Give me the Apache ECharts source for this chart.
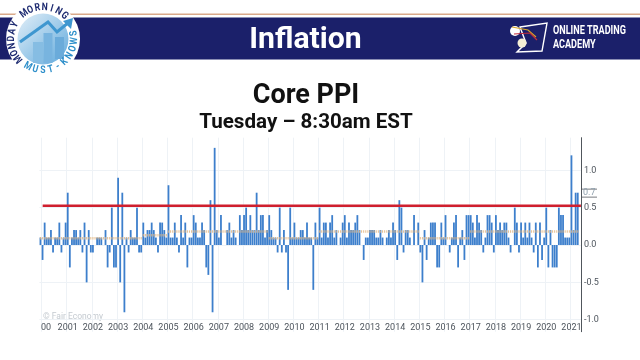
<!DOCTYPE html>
<html><head><meta charset="utf-8">
<style>html,body{margin:0;padding:0;background:#fff}#c{width:640px;height:360px}</style>
<script src="https://cdn.jsdelivr.net/npm/echarts@6/dist/echarts.min.js"></script>
</head><body><div id="c"></div>
<script>
const firstYear = 2000;
const dec1999 = [0.1];
const y2000 = [-0.2,0.3,0.1,0.1,0.2,-0.1,0.1,0.1,0.3,-0.1,0.1,0.3];
const y2001 = [0.7,-0.3,0.1,0.2,0.2,0.1,0.2,-0.1,0.3,-0.5,0.2,-0.1];
const y2002 = [-0.1,0,0.1,0.1,0.1,0,0.2,-0.3,-0.1,0.5,-0.3,-0.3];
const y2003 = [0.9,-0.5,0.7,-0.9,0.1,-0.1,0.2,0.1,0.1,0.5,-0.1,-0.1];
const y2004 = [0.3,0.1,0.2,0.2,0.3,0.2,0.1,-0.1,0.3,0.3,0.2,0.1];
const y2005 = [0.8,0.1,0.1,0.3,0.1,-0.1,0.4,0.1,0.3,-0.3,0.1,0.1];
const y2006 = [0.4,0.3,0.1,0.1,0.3,0.2,-0.3,-0.4,0.6,-0.9,1.3,0.2];
const y2007 = [0.1,0.4,0,0,0.2,0.3,0.1,0.2,0.1,0,0.4,0.2];
const y2008 = [0.4,0.5,0.2,0.4,0.2,0.2,0.7,0.2,0.4,0.4,0.1,0.2];
const y2009 = [0.4,0.2,0.1,0.1,-0.1,0.5,-0.1,0.2,-0.1,-0.6,0.5,0.1];
const y2010 = [0.3,0.1,0.1,0.2,0.2,0.1,0.3,0.1,0.1,-0.6,0.3,0.1];
const y2011 = [0.5,0.1,0.3,0.3,0.1,0.3,0.4,0.1,0.2,0,0.1,0.3];
const y2012 = [0.4,0.1,0.3,0.2,0.2,0.3,0.4,0.2,0,-0.2,0.1,0.1];
const y2013 = [0.2,0.2,0.2,0.1,0.1,0.2,0.1,0,0.1,0.2,0.1,0.3];
const y2014 = [0.2,-0.2,0.6,0.5,-0.1,0.2,0.2,0.1,0,0.4,0,0.3];
const y2015 = [-0.1,-0.5,0.2,-0.2,0.1,0.3,0.3,0.3,-0.3,-0.3,0.3,0.1];
const y2016 = [0.4,0,-0.1,0.1,0.3,0.4,-0.3,0.1,0.2,-0.2,0.4,0.4];
const y2017 = [0.4,0.3,0.1,0.4,0.3,0.2,-0.1,0.1,0.4,0.4,0.3,-0.1];
const y2018 = [0.4,0.2,0.3,0.2,0.3,0.3,0.1,-0.1,0,0.5,0.3,-0.1];
const y2019 = [0.3,0.1,0.3,0.1,0.3,0.1,-0.1,0.3,-0.3,0.3,-0.2,0.1];
const y2020 = [0.5,-0.3,0.2,-0.3,-0.3,-0.3,0.5,0.4,0.4,0.1,0.1,0.1];
const y2021 = [1.2,0.2,0.7,0.7];
const monthlyByYear = [y2000,y2001,y2002,y2003,y2004,y2005,y2006,y2007,y2008,y2009,y2010,y2011,y2012,y2013,y2014,y2015,y2016,y2017,y2018,y2019,y2020,y2021];

// Forecast markers per year, one reading for the year
const forecastByYear = [0.09,0.09,0.09,0.09,0.13,0.18,0.18,0.18,0.18,0.09,0.09,0.18,0.18,0.18,0.18,0.09,0.09,0.18,0.18,0.18,0.18,0.18];
const threshold = 0.525;
const latest = 0.7;
const yTicks = [-1,-0.5,0,0.5,1];
const navy = '#1b206a';
const font = 'Roboto, "Noto Sans", sans-serif';

const categories = ['1999-12'];
const actual = dec1999.slice();
const forecast = [forecastByYear[0]];
monthlyByYear.forEach((arr, i) => arr.forEach((v, m) => {
  categories.push((firstYear + i) + '-' + String(m + 1).padStart(2, '0'));
  actual.push(v);
  forecast.push(forecastByYear[i]);
}));
categories.push('2021-05'); actual.push(null); forecast.push(null);

const isJan = (idx, val) => String(val).endsWith('-01');

function arcText(str, cx, cy, R, startDeg, stepDeg, bottom, fill) {
  return str.split('').map((ch, i) => {
    const a = (startDeg + stepDeg * i) * Math.PI / 180;
    return {type:'text', x: cx + R * Math.sin(a), y: cy - R * Math.cos(a),
      rotation: bottom ? -(a - Math.PI) : -a, scaleX:0.82,
      style:{text: ch, fill, font:'bold 10.5px ' + font, align:'center', verticalAlign:'middle'}};
  });
}

const logoCx = 43, logoCy = 39;
const header = [
  {type:'rect', shape:{x:0,y:13.5,width:640,height:1.6}, style:{fill:'#d9a98a'}},
  {type:'rect', shape:{x:0,y:17.5,width:640,height:42}, style:{fill:navy}},
  {type:'circle', shape:{cx:logoCx,cy:logoCy,r:37}, style:{fill:'#fff'}},
  {type:'circle', shape:{cx:logoCx,cy:logoCy,r:25.5}, style:{fill:{type:'linear',x:0,y:0,x2:1,y2:1,colorStops:[{offset:0,color:'#e3eff8'},{offset:1,color:'#5fa9dc'}]}}},
  {type:'rect', shape:{x:33,y:42,width:10,height:21}, style:{fill:'#86bde3'}},
  {type:'rect', shape:{x:43.5,y:33,width:9,height:30}, style:{fill:'#78b4df'}},
  {type:'rect', shape:{x:55,y:37,width:9,height:22}, style:{fill:'#6aabda'}},
  {type:'polyline', shape:{points:[[20,42],[48,22],[57,32],[68,23]]}, style:{stroke:'#3f97d0',lineWidth:3,fill:null}},
  {type:'polygon', shape:{points:[[73,18],[71,29],[63,21]]}, style:{fill:'#3f97d0'}},
  ...arcText('MONDAY MORNING', logoCx, logoCy, 31.5, -129, 13.2, false, '#1d2a70'),
  ...arcText('MUST-KNOWS', logoCx, logoCy, 31.5, 209, -14.4, true, '#2e8fca'),
  {type:'text', x:305.5, y:40.5, scaleX:1.04, style:{text:'Inflation', fill:'#fff', font:'bold 29px ' + font, align:'center', verticalAlign:'middle'}},
  {type:'polygon', shape:{points:[[520,27],[547,23],[542,51],[517,52],[526,43]]}, style:{fill:null, stroke:'#fff', lineWidth:1.4}},
  {type:'circle', shape:{cx:515,cy:31,r:5}, style:{fill:'#fff'}},
  {type:'circle', shape:{cx:522,cy:43,r:4.5}, style:{fill:'#f5efd5'}},
  {type:'polyline', shape:{points:[[512,27],[528,30],[536,37]]}, style:{stroke:'#d8a72a',lineWidth:1.2,fill:null}},
  {type:'polyline', shape:{points:[[514,34],[530,33],[537,40]]}, style:{stroke:'#c22c3c',lineWidth:1.2,fill:null}},
  {type:'text', x:553, y:31, scaleX:0.7, style:{text:'ONLINE TRADING', fill:'#fff', font:'bold 13px ' + font, align:'left', verticalAlign:'middle'}},
  {type:'text', x:553, y:45, scaleX:0.7, style:{text:'ACADEMY', fill:'#fff', font:'bold 13px ' + font, align:'left', verticalAlign:'middle'}},
  {type:'text', x:306, y:96, style:{text:'Core PPI', fill:'#111', font:'bold 27px ' + font, align:'center', verticalAlign:'middle'}},
  {type:'text', x:306, y:122.5, scaleX:1.03, style:{text:'Tuesday – 8:30am EST', fill:'#111', font:'bold 20px ' + font, align:'center', verticalAlign:'middle'}},
  {type:'text', x:43, y:317, style:{text:'© Fair Economy', fill:'#c4cad0', font:'8.5px ' + font, align:'left', verticalAlign:'middle'}}
];

const chart = echarts.init(document.getElementById('c'), null, {renderer:'canvas'});
const option = {
  animation:false,
  backgroundColor:'#fff',
  grid:{left:39.4,top:137.7,width:541.5,height:194,containLabel:false},
  xAxis:[
    {type:'category', data:categories, position:'bottom',
      axisLine:{show:false}, axisTick:{show:false},
      splitLine:{show:true, interval:isJan, lineStyle:{color:'#eef2f6',width:1}},
      axisLabel:{inside:true, margin:-1, interval:isJan, hideOverlap:false, color:'#4d545c', fontSize:9, fontFamily:font,
        formatter:(v)=>{const y=v.slice(0,4); return y==='2000' ? '{first|00}' : y;},
        rich:{first:{padding:[0,0,0,7],color:'#4d545c',fontSize:9,fontFamily:font}}}},
    {type:'value', min:0, max:1, show:false}
  ],
  yAxis:{type:'value', position:'right', min:-1.16, max:1.436, scale:false,
    axisLine:{show:true, onZero:false, lineStyle:{color:'#50565c',width:1}},
    axisTick:{show:false, customValues:yTicks},
    splitLine:{show:true, lineStyle:{color:'#eef2f6',width:1}},
    axisLabel:{customValues:yTicks, margin:3, color:'#4d545c', fontSize:9, fontFamily:font, formatter:(v)=>v.toFixed(1)}},
  series:[
    {type:'bar', name:'Actual', data:actual, barWidth:1.8, itemStyle:{color:'#3d7fcc'}, z:2},
    {type:'scatter', name:'Forecast', data:forecast, symbol:'rect', symbolSize:[1.1,2.4], itemStyle:{color:'#e4b47c'}, z:3, silent:true},
    {type:'line', name:'Threshold', xAxisIndex:1, data:[[0.006,threshold],[1,threshold]], symbol:'none', lineStyle:{color:'#cf1f2e',width:2.6}, z:4, silent:true}
  ],
  graphic:header
};
chart.setOption(option);
const ly = chart.convertToPixel({yAxisIndex:0}, latest);
const rx = 581;
chart.setOption({graphic:header.concat([
  {type:'rect', shape:{x:rx,y:ly-4,width:16,height:0.8}, style:{fill:'#55595e'}},
  {type:'rect', shape:{x:rx,y:ly+4,width:16,height:0.8}, style:{fill:'#55595e'}},
  {type:'text', x:583, y:ly, style:{text:latest.toFixed(1), fill:'#8fa0ad', font:'9px ' + font, align:'left', verticalAlign:'middle'}}
])});
</script></body></html>
